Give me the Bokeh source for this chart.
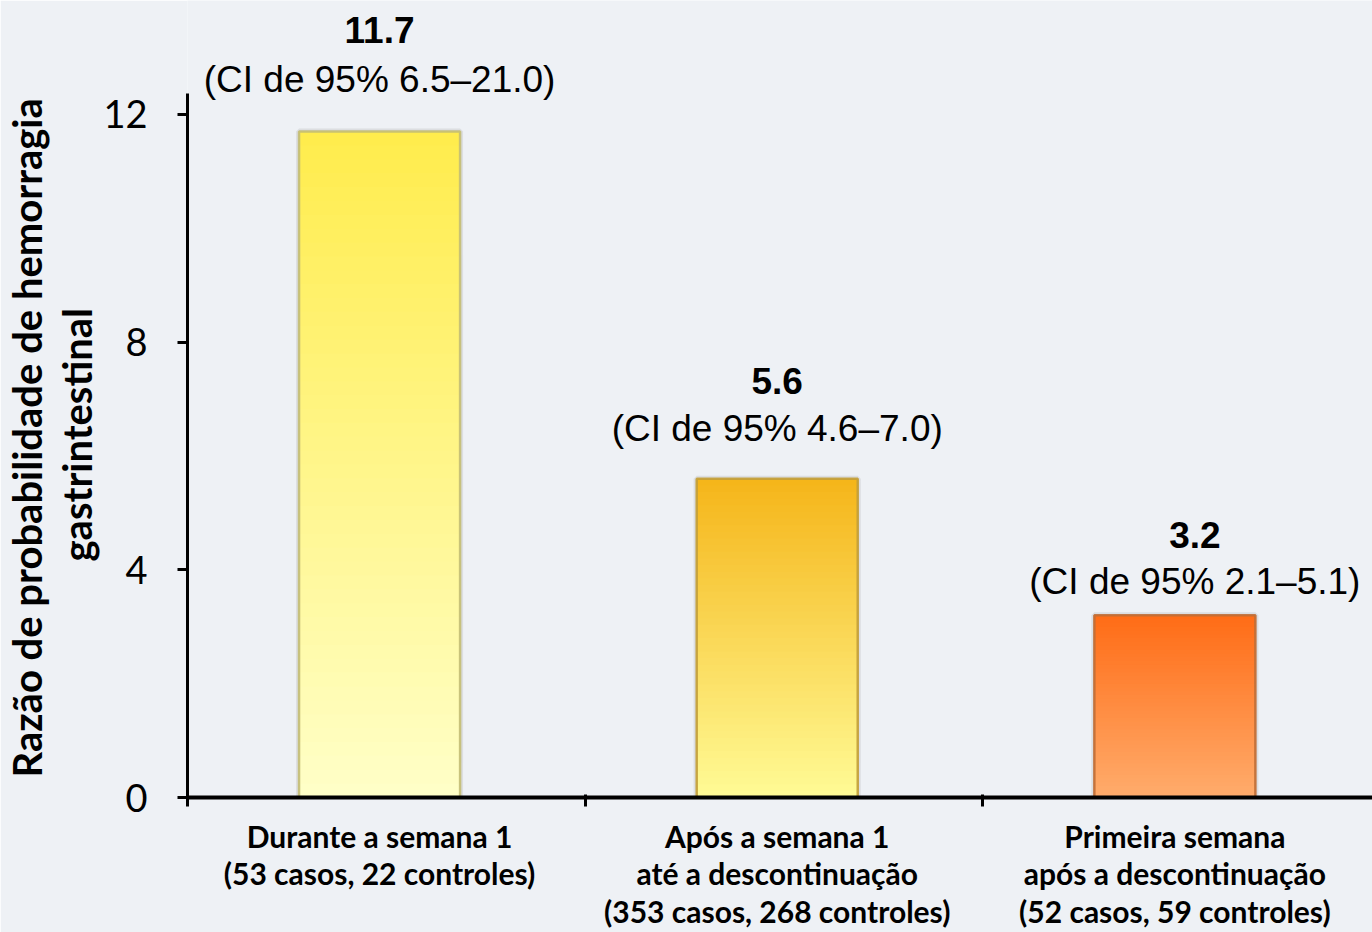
from bokeh.plotting import figure
from bokeh.models import (ColumnDataSource, FixedTicker, Range1d, LabelSet, Title)
from bokeh.core.properties import value
from bokeh.embed import file_html
from bokeh.resources import INLINE

# ---- data -------------------------------------------------------------
categories = [
    "Durante a semana 1\n(53 casos, 22 controles)",
    "Após a semana 1\naté a descontinuação\n(353 casos, 268 controles)",
    "Primeira semana\napós a descontinuação\n(52 casos, 59 controles)",
]
odds_ratio = [11.7, 5.6, 3.2]
ci_low = [6.5, 4.6, 2.1]
ci_high = [21.0, 7.0, 5.1]
y_ticks = [0, 4, 8, 12]
y_title = ["Razão de probabilidade de hemorragia", "gastrintestinal"]

# ---- style ------------------------------------------------------------
top_colors = ["#ffec4c", "#f5b519", "#ff6c16"]
bottom_colors = ["#ffffc8", "#fffb96", "#ffac6c"]
edge_colors = ["#c3bc74", "#c29e3a", "#c06e36"]
value_gap = [88, 85, 67]      # px from bar top to value baseline
ci_gap = [39, 38, 21]         # px from bar top to CI baseline
label_dx = [0, 0, 20]         # px horizontal nudge of each label pair
BG = "#eef1f5"
W, H = 1372, 932
bar_offset = 0.483
bar_width = 0.405

n = len(categories)
xs = [i + bar_offset for i in range(n)]

p = figure(width=W, height=H, output_backend="svg", toolbar_location=None,
           x_range=Range1d(0, 2.98), y_range=Range1d(0, 14.0),
           min_border_left=186, min_border_right=0,
           min_border_top=0, min_border_bottom=134)
p.background_fill_color = BG
p.border_fill_color = BG
p.outline_line_color = None
p.xgrid.visible = False
p.ygrid.visible = False


def hex_rgb(h):
    h = h.lstrip("#")
    return tuple(int(h[k:k + 2], 16) for k in (0, 2, 4))


def mix(c0, c1, t):
    a, b = hex_rgb(c0), hex_rgb(c1)
    return "#%02x%02x%02x" % tuple(round(a[j] + (b[j] - a[j]) * t) for j in range(3))


src = ColumnDataSource(dict(
    x=xs, top=odds_ratio, fill=top_colors, edge=edge_colors,
    val=[f"{v:.1f}" for v in odds_ratio],
    ci=[f"(CI de 95% {lo:.1f}–{hi:.1f})" for lo, hi in zip(ci_low, ci_high)],
    vgap=value_gap, cgap=ci_gap, dx=label_dx,
))

# soft shadow, solid base carrying the value, then a vertical colour fade
p.vbar(x="x", top="top", width=bar_width, bottom=0, source=src,
       fill_color=None, line_color="#8a8a8a", line_width=6, line_alpha=0.18)
p.vbar(x="x", top="top", width=bar_width, bottom=0, source=src,
       fill_color="fill", line_color=None)

steps = 48
bx, bb, bt, bc = [], [], [], []
for i in range(n):
    v = odds_ratio[i]
    for k in range(steps):
        bx.append(xs[i])
        bb.append(v * k / steps)
        bt.append(min(v, v * (k + 1.6) / steps))
        bc.append(mix(bottom_colors[i], top_colors[i], (k + 0.5) / steps))
p.vbar(x=bx, bottom=bb, top=bt, width=bar_width, fill_color=bc, line_color=None)
p.vbar(x="x", top="top", width=bar_width, bottom=0, source=src,
       fill_color=None, line_color="edge", line_width=2.5, line_alpha=0.9)

# value and confidence interval labels
p.add_layout(LabelSet(x="x", y="top", text="val", source=src,
                      x_offset="dx", y_offset="vgap",
                      text_align="center", text_baseline="alphabetic",
                      text_font=value("Liberation Sans"), text_font_style="bold",
                      text_font_size="37px", text_color="#000000"))
p.add_layout(LabelSet(x="x", y="top", text="ci", source=src,
                      x_offset="dx", y_offset="cgap",
                      text_align="center", text_baseline="alphabetic",
                      text_font=value("Liberation Sans"), text_font_size="37px",
                      text_color="#000000"))

# y axis
ya = p.yaxis[0]
ya.ticker = FixedTicker(ticks=y_ticks)
ya.bounds = (0, 12.37)
ya.axis_line_width = 3
ya.major_tick_line_width = 3
ya.major_tick_out = 10
ya.major_tick_in = 0
ya.minor_tick_line_color = None
ya.major_label_text_font = "Lato"
ya.major_label_text_font_size = "38px"
ya.major_label_text_color = "#000000"
ya.major_label_standoff = 30

# y title, two lines stacked outward from the axis
for text, off in [(y_title[1], 236), (y_title[0], 20)]:
    p.add_layout(Title(text=text, align="left", offset=off, standoff=0,
                       text_font="Lato", text_font_style="bold",
                       text_font_size="40px", text_color="#000000",
                       text_line_height=0.78), "left")

# x axis: category names at bar centres, tick marks between categories
xa = p.xaxis[0]
xa.ticker = FixedTicker(ticks=xs, minor_ticks=list(range(n)))
xa.major_label_overrides = {x: c for x, c in zip(xs, categories)}
xa.axis_line_width = 4
xa.major_tick_line_color = None
xa.major_tick_out = 9
xa.major_tick_in = 0
xa.minor_tick_line_color = "#000000"
xa.minor_tick_line_width = 3
xa.minor_tick_out = 9
xa.minor_tick_in = 3
xa.major_label_standoff = 11
xa.major_label_text_font = "Lato"
xa.major_label_text_font_style = "bold"
xa.major_label_text_font_size = "30px"
xa.major_label_text_color = "#000000"
xa.major_label_text_line_height = 1.055

open("out.html", "w").write(file_html(p, INLINE))
